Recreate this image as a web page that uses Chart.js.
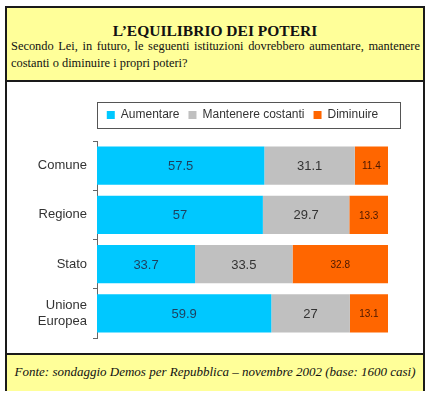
<!DOCTYPE html>
<html>
<head>
<meta charset="utf-8">
<script src="https://cdn.jsdelivr.net/npm/chart.js@4.4.0/dist/chart.umd.min.js"></script>
<style>
  body { margin: 0; background: #fff; }
  #frame {
    position: absolute; left: 5px; top: 6px; width: 416px; height: 381px;
    border: 2px solid #1a1a1a; background: #fff;
  }
  #header {
    position: absolute; left: 0; top: 0; width: 416px; height: 72px;
    background: #ffff99; border-bottom: 2px solid #1a1a1a;
    font-family: "Liberation Serif", "DejaVu Serif", serif; color: #111;
  }
  #title { text-align: center; font-weight: bold; font-size: 15.5px; margin-top: 14px; }
  #sub { font-size: 12.4px; line-height: 17px; text-align: justify; padding: 0 3px 0 4px; margin-top: -2px; }
  #footer {
    position: absolute; left: 0; top: 345px; width: 416px; height: 36px;
    background: #ffff99; border-top: 2px solid #1a1a1a;
    font-family: "Liberation Serif", "DejaVu Serif", serif; font-style: italic;
    font-size: 13px; color: #111; text-align: center; line-height: 34px;
  }
  #wrap { position: absolute; left: 0; top: 74px; width: 416px; height: 271px; }
</style>
</head>
<body>
<div id="frame">
  <div id="header">
    <div id="title">L’EQUILIBRIO DEI POTERI</div>
    <div id="sub">Secondo Lei, in futuro, le seguenti istituzioni dovrebbero aumentare, mantenere costanti o diminuire i propri poteri?</div>
  </div>
  <div id="wrap"><canvas id="chart"></canvas></div>
  <div id="footer">Fonte: sondaggio Demos per Repubblica – novembre 2002 (base: 1600 casi)</div>
</div>
<script>
const categories = ['Comune', 'Regione', 'Stato', ['Unione', 'Europea']];
const seriesNames = ['Aumentare', 'Mantenere costanti', 'Diminuire'];
const aumentare = [57.5, 57, 33.7, 59.9];
const mantenere = [31.1, 29.7, 33.5, 27];
const diminuire = [11.4, 13.3, 32.8, 13.1];

const colors = ['#00c8ff', '#c0c0c0', '#ff6600'];
const labelColors = ['#1d3f5e', '#333333', '#4a1800'];
const labelSizes = [13, 13, 10];
const sansFont = '"Liberation Sans", Arial, sans-serif';

// writes each value in the middle of its bar segment
const valueLabels = {
    id: 'valueLabels',
    afterDatasetsDraw(chart) {
        const ctx = chart.ctx;
        ctx.save();
        ctx.textAlign = 'center';
        ctx.textBaseline = 'middle';
        chart.data.datasets.forEach((ds, i) => {
            const meta = chart.getDatasetMeta(i);
            ctx.fillStyle = labelColors[i];
            ctx.font = labelSizes[i] + 'px ' + sansFont;
            meta.data.forEach((bar, j) => {
                const p = bar.getProps(['x', 'y', 'base'], true);
                ctx.fillText(String(ds.data[j]), (p.x + p.base) / 2, p.y + 1);
            });
        });
        ctx.restore();
    }
};

// thin frame round the legend
const legendBox = {
    id: 'legendBox',
    afterDraw(chart) {
        const boxes = chart.legend.legendHitBoxes;
        if (!boxes || !boxes.length) return;
        const last = boxes[boxes.length - 1];
        const cy = boxes[0].top + boxes[0].height / 2;
        const ctx = chart.ctx;
        ctx.save();
        ctx.strokeStyle = '#555';
        ctx.lineWidth = 1;
        const left = chart.chartArea.left;
        const right = Math.max(last.left + last.width + 8, chart.chartArea.right + 12);
        ctx.strokeRect(Math.round(left) + 0.5, Math.round(cy - 13) + 0.5, Math.round(right - left), 26);
        ctx.restore();
    }
};

new Chart(document.getElementById('chart'), {
    type: 'bar',
    data: {
        labels: categories,
        datasets: [aumentare, mantenere, diminuire].map((d, i) => ({
            label: seriesNames[i],
            data: d,
            backgroundColor: colors[i],
            borderWidth: 0,
            barPercentage: 0.78,
            categoryPercentage: 1
        }))
    },
    options: {
        indexAxis: 'y',
        responsive: true,
        maintainAspectRatio: false,
        animation: false,
        layout: { padding: { left: 0, right: 35, top: 18, bottom: 15 } },
        scales: {
            x: {
                stacked: true, min: 0, max: 100, position: 'top',
                afterFit(scale) { scale.height = 10; },
                ticks: { display: false },
                grid: { display: false },
                border: { display: false }
            },
            y: {
                stacked: true,
                afterFit(scale) { scale.width = 90; },
                border: { display: true, color: '#666', width: 1 },
                grid: { offset: true, drawOnChartArea: false, tickLength: 4, color: '#666' },
                ticks: {
                    color: '#333',
                    padding: 6,
                    font: { family: sansFont, size: 13 }
                }
            }
        },
        plugins: {
            legend: {
                position: 'top',
                fullSize: false,
                labels: {
                    boxWidth: 8,
                    boxHeight: 8,
                    padding: 9,
                    color: '#333',
                    font: { family: sansFont, size: 12 }
                }
            },
            tooltip: { enabled: false }
        }
    },
    plugins: [valueLabels, legendBox]
});
</script>
</body>
</html>
